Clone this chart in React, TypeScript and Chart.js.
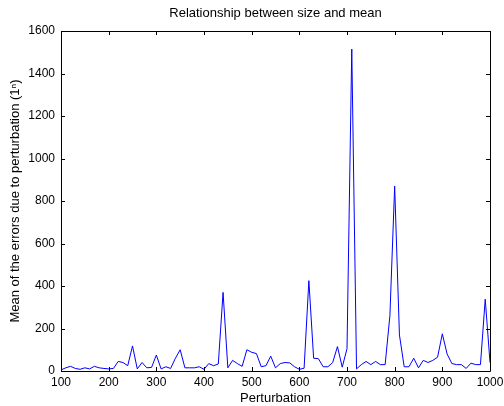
import React, { useEffect, useRef } from "react";
import { Chart, registerables } from "chart.js";

Chart.register(...registerables);

const perturbation: number[] = [];
for (let p = 100; p <= 1000; p += 10) perturbation.push(p);

const meanErrors: number[] = [
  5, 15, 22, 12, 8, 15, 10, 22, 15, 12,
  10, 12, 45, 40, 25, 118, 10, 40, 15, 17,
  75, 10, 20, 12, 60, 100, 15, 15, 15, 20,
  8, 35, 25, 33, 370, 15, 50, 35, 22, 100,
  88, 82, 20, 25, 70, 15, 35, 40, 38, 20,
  8, 13, 425, 60, 58, 20, 20, 40, 115, 18,
  105, 1515, 10, 30, 45, 30, 45, 30, 30, 260,
  870, 170, 20, 20, 60, 15, 50, 40, 50, 65,
  175, 80, 35, 30, 30, 12, 37, 30, 30, 338,
  40,
];

const xTicks = [100, 200, 300, 400, 500, 600, 700, 800, 900, 1000];
const yTicks = [0, 200, 400, 600, 800, 1000, 1200, 1400, 1600];

const titleText = "Relationship between size and mean";
const xTitle = "Perturbation";
const yTitle = "Mean of the errors due to perturbation (1\u207F)";

const FONT = "Liberation Sans, Arial, Helvetica, sans-serif";

const matlabPlugin = {
  id: "matlabFrame",
  beforeDraw(chart: any) {
    const ctx = chart.ctx;
    ctx.save();
    ctx.fillStyle = "#ffffff";
    ctx.fillRect(0, 0, chart.width, chart.height);
    ctx.restore();
  },
  afterDatasetsDraw(chart: any) {
    const { ctx, chartArea } = chart;
    const { left, right, top, bottom } = chartArea;
    const xs = chart.scales.x;
    const ys = chart.scales.y;
    const tl = 4;
    ctx.save();
    ctx.strokeStyle = "#000000";
    ctx.lineWidth = 1;
    ctx.beginPath();
    xTicks.forEach((t) => {
      const px = Math.round(xs.getPixelForValue(t)) + 0.5;
      ctx.moveTo(px, bottom);
      ctx.lineTo(px, bottom - tl);
      ctx.moveTo(px, top);
      ctx.lineTo(px, top + tl);
    });
    yTicks.forEach((t) => {
      const py = Math.round(ys.getPixelForValue(t)) + 0.5;
      ctx.moveTo(left, py);
      ctx.lineTo(left + tl, py);
      ctx.moveTo(right, py);
      ctx.lineTo(right - tl, py);
    });
    ctx.stroke();
    ctx.beginPath();
    ctx.rect(Math.round(left) + 0.5, Math.round(top) + 0.5, Math.round(right - left), Math.round(bottom - top));
    ctx.stroke();

    ctx.fillStyle = "#000000";
    ctx.font = `13px ${FONT}`;
    ctx.textAlign = "center";
    ctx.textBaseline = "middle";
    const cx = (left + right) / 2;
    ctx.fillText(titleText, cx, 13);
    ctx.fillText(xTitle, cx, 398);
    ctx.translate(15, (top + bottom) / 2);
    ctx.rotate(-Math.PI / 2);
    ctx.fillText(yTitle, 0, 0);
    ctx.restore();
  },
};

export default function App() {
  const ref = useRef<HTMLCanvasElement | null>(null);
  useEffect(() => {
    if (!ref.current) return;
    const chart = new Chart(ref.current, {
      type: "line",
      data: {
        datasets: [
          {
            data: perturbation.map((p, i) => ({ x: p, y: meanErrors[i] })),
            borderColor: "#0000ff",
            borderWidth: 1,
            pointRadius: 0,
            fill: false,
            tension: 0,
          },
        ],
      },
      options: {
        responsive: false,
        animation: false,
        layout: { padding: { left: 0, top: 31, right: 14, bottom: 0 } },
        plugins: {
          legend: { display: false },
          title: { display: false },
          tooltip: { enabled: false },
        },
        scales: {
          x: {
            type: "linear",
            min: 100,
            max: 1000,
            grid: { display: false, drawTicks: false },
            border: { display: false },
            afterBuildTicks: (scale: any) => {
              scale.ticks = xTicks.map((v) => ({ value: v }));
            },
            afterFit: (scale: any) => {
              scale.height = 35;
              scale.paddingLeft = 0;
              scale.paddingRight = 0;
            },
            ticks: {
              color: "#000000",
              font: { family: FONT, size: 12 },
              padding: 4,
              maxRotation: 0,
              autoSkip: false,
              callback: (v: any) => String(v),
            },
          },
          y: {
            type: "linear",
            min: 0,
            max: 1600,
            grid: { display: false, drawTicks: false },
            border: { display: false },
            afterBuildTicks: (scale: any) => {
              scale.ticks = yTicks.map((v) => ({ value: v }));
            },
            afterFit: (scale: any) => {
              scale.width = 61;
              scale.paddingTop = 0;
              scale.paddingBottom = 0;
            },
            ticks: {
              color: "#000000",
              font: { family: FONT, size: 12 },
              padding: 6,
              autoSkip: false,
              callback: (v: any) => String(v),
            },
          },
        },
      },
      plugins: [matlabPlugin],
    });
    return () => chart.destroy();
  }, []);
  return (
    <div style={{ position: "absolute", left: 0, top: 0, width: 504, height: 406 }}>
      <canvas ref={ref} width={504} height={406} style={{ display: "block" }} />
    </div>
  );
}
